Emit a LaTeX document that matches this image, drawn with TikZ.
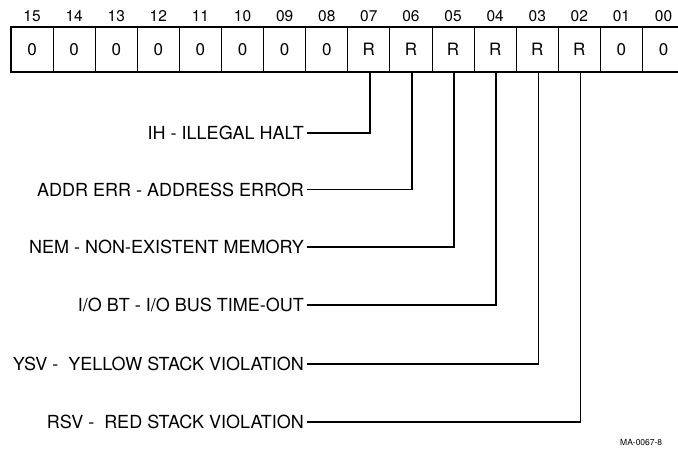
\documentclass[tikz,border=0pt]{standalone}
\usepackage{fontspec}
\setmainfont{TeX Gyre Heros}
\begin{document}
\begin{tikzpicture}[
    x=1pt, y=-1pt,
    cell/.style={draw, line width=0.9pt, minimum width=42.1pt, minimum height=44.5pt,
      inner sep=0pt, font=\fontsize{17}{17}\selectfont},
    bitnum/.style={anchor=base, inner sep=0pt, font=\fontsize{15.5}{15.5}\selectfont},
    errlabel/.style={anchor=east, inner sep=3pt, font=\fontsize{18}{18}\selectfont},
    wire/.style={line width=1.4pt},
    ]
    \useasboundingbox (0,0) rectangle (678,451);

    % --- Register cells and bit numbers ---
    \node[cell] (b15) at (32.05,49.5)  {0}; \node[bitnum] (n15) at (32.05,21)  {15};
    \node[cell] (b14) at (74.15,49.5)  {0}; \node[bitnum] (n14) at (74.15,21)  {14};
    \node[cell] (b13) at (116.25,49.5) {0}; \node[bitnum] (n13) at (116.25,21) {13};
    \node[cell] (b12) at (158.35,49.5) {0}; \node[bitnum] (n12) at (158.35,21) {12};
    \node[cell] (b11) at (200.45,49.5) {0}; \node[bitnum] (n11) at (200.45,21) {11};
    \node[cell] (b10) at (242.55,49.5) {0}; \node[bitnum] (n10) at (242.55,21) {10};
    \node[cell] (b09) at (284.65,49.5) {0}; \node[bitnum] (n09) at (284.65,21) {09};
    \node[cell] (b08) at (326.75,49.5) {0}; \node[bitnum] (n08) at (326.75,21) {08};
    \node[cell] (b07) at (368.85,49.5) {R}; \node[bitnum] (n07) at (368.85,21) {07};
    \node[cell] (b06) at (410.95,49.5) {R}; \node[bitnum] (n06) at (410.95,21) {06};
    \node[cell] (b05) at (453.05,49.5) {R}; \node[bitnum] (n05) at (453.05,21) {05};
    \node[cell] (b04) at (495.15,49.5) {R}; \node[bitnum] (n04) at (495.15,21) {04};
    \node[cell] (b03) at (537.25,49.5) {R}; \node[bitnum] (n03) at (537.25,21) {03};
    \node[cell] (b02) at (579.35,49.5) {R}; \node[bitnum] (n02) at (579.35,21) {02};
    \node[cell] (b01) at (621.45,49.5) {0}; \node[bitnum] (n01) at (621.45,21) {01};
    \node[cell] (b00) at (663.55,49.5) {0}; \node[bitnum] (n00) at (663.55,21) {00};

    % Outer frame of the register
    \draw[line width=1.7pt] (b15.north west) rectangle (b00.south east);

    % --- Error labels ---
    \node[errlabel] (ih)   at (307,133)   {IH - ILLEGAL HALT};
    \node[errlabel] (addr) at (307,189.5) {ADDR ERR - ADDRESS ERROR};
    \node[errlabel] (nem)  at (307,247)   {NEM - NON-EXISTENT MEMORY};
    \node[errlabel] (iobt) at (307,305)   {I/O BT - I/O BUS TIME-OUT};
    \node[errlabel] (ysv)  at (307,364)   {YSV -\ \ YELLOW STACK VIOLATION};
    \node[errlabel] (rsv)  at (307,422)   {RSV -\ \ RED STACK VIOLATION};

    % --- Connectors from labels up to the bits ---
    \draw[wire] (ih.east)   -| ([xshift=1pt]b07.south);
    \draw[wire] (addr.east) -| ([xshift=1pt]b06.south);
    \draw[wire] (nem.east)  -| ([xshift=1pt]b05.south);
    \draw[wire] (iobt.east) -| ([xshift=1pt]b04.south);
    \draw[wire] (ysv.east)  -| ([xshift=1pt]b03.south);
    \draw[wire] (rsv.east)  -| ([xshift=1pt]b02.south);

    % Figure number
    \node[anchor=base west, inner sep=0pt, font=\fontsize{8.5}{8.5}\selectfont] (fig) at (620,445) {MA-0067-8};

  \end{tikzpicture}
\end{document}
